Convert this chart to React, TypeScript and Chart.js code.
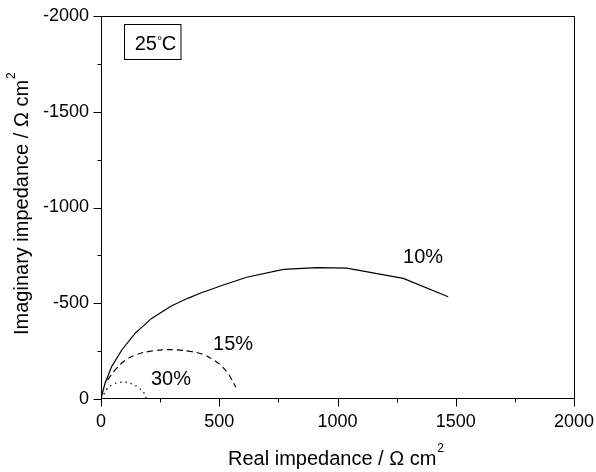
import React, { useEffect, useRef } from "react";
import { Chart, registerables } from "chart.js";

Chart.register(...registerables);

// ---- data (real impedance, imaginary impedance in Ω cm²) ----
const real10 = [0, 6, 17, 45, 88, 144, 214, 299, 369, 419, 517, 616, 771, 912, 1039, 1278, 1468];
const imag10 = [0, -30, -82, -169, -256, -343, -421, -487, -527, -552, -595, -636, -677, -686, -683, -630, -534];

const real15 = [28, 60, 100, 150, 210, 270, 320, 380, 430, 475, 510, 540, 570];
const imag15 = [-100, -152, -200, -232, -250, -257, -257, -248, -234, -205, -172, -128, -62];

const real30 = [12, 25, 50, 80, 105, 135, 160, 180, 192];
const imag30 = [-25, -52, -76, -87, -88, -76, -58, -34, -4];

const seriesNames = ["10%", "15%", "30%"];
// label anchors in data units (real, imaginary)
const labelReal = [1277, 474, 211];
const labelImag = [-710, -256, -73];

const xTickValues = [0, 500, 1000, 1500, 2000];
const yTickValues = [0, -500, -1000, -1500, -2000];
const xTitle = "Real impedance / Ω cm";
const yTitle = "Imaginary impedance / Ω cm";
const tempLabel = ["25", "°", "C"];

const FONT = "'Liberation Sans', Arial, sans-serif";

const toPoints = (xs: number[], ys: number[]) => xs.map((x, i) => ({ x, y: ys[i] }));

const decorPlugin = {
  id: "decor",
  afterDraw(chart: any) {
    const ctx = chart.ctx as CanvasRenderingContext2D;
    const { left, right, top, bottom } = chart.chartArea;
    const xs = chart.scales.x;
    const ys = chart.scales.y;
    ctx.save();
    ctx.strokeStyle = "#000";
    ctx.fillStyle = "#000";
    ctx.lineWidth = 1;
    const L = Math.round(left) + 0.5;
    const R = Math.round(right) + 0.5;
    const T = Math.round(top) + 0.5;
    const B = Math.round(bottom) - 0.5;
    ctx.strokeRect(L, T, R - L, B - T);

    // tick marks (major every 500, minor every 250)
    ctx.beginPath();
    for (let v = 0; v <= 2000; v += 250) {
      const len = v % 500 === 0 ? 8 : 4;
      const px = Math.round(xs.getPixelForValue(v)) + 0.5;
      ctx.moveTo(px, B);
      ctx.lineTo(px, B + len);
      const py = Math.round(ys.getPixelForValue(-v)) + 0.5;
      ctx.moveTo(L, py);
      ctx.lineTo(L - len, py);
    }
    ctx.stroke();

    // axis titles
    ctx.textAlign = "left";
    ctx.textBaseline = "alphabetic";
    ctx.font = `20px ${FONT}`;
    const xw = ctx.measureText(xTitle).width;
    const xStart = 228;
    ctx.fillText(xTitle, xStart, 465);
    ctx.font = `12px ${FONT}`;
    ctx.fillText("2", xStart + xw + 1, 465 - 13);

    ctx.save();
    ctx.translate(28, 335);
    ctx.rotate(-Math.PI / 2);
    ctx.font = `20px ${FONT}`;
    const yw = ctx.measureText(yTitle).width;
    ctx.fillText(yTitle, 0, 0);
    ctx.font = `12px ${FONT}`;
    ctx.fillText("2", yw + 1, -13);
    ctx.restore();

    // series labels
    ctx.font = `20px ${FONT}`;
    seriesNames.forEach((name, i) => {
      ctx.fillText(name, xs.getPixelForValue(labelReal[i]), ys.getPixelForValue(labelImag[i]));
    });

    // temperature box
    ctx.strokeRect(124.5, 24.5, 56.5, 35);
    let tx = 134.7;
    ctx.font = `20px ${FONT}`;
    ctx.fillText(tempLabel[0], tx, 50);
    tx += ctx.measureText(tempLabel[0]).width;
    ctx.font = `13px ${FONT}`;
    ctx.fillText(tempLabel[1], tx, 45);
    tx += ctx.measureText(tempLabel[1]).width - 0.5;
    ctx.font = `20px ${FONT}`;
    ctx.fillText(tempLabel[2], tx, 50);

    ctx.restore();
  },
};

const zeroPad = (s: any) => {
  s.paddingLeft = 0;
  s.paddingRight = 0;
  s.paddingTop = 0;
  s.paddingBottom = 0;
};

export default function App() {
  const canvasRef = useRef<HTMLCanvasElement | null>(null);

  useEffect(() => {
    const canvas = canvasRef.current;
    if (!canvas) return;
    const chart = new Chart(canvas, {
      type: "line",
      data: {
        datasets: [
          {
            label: seriesNames[0],
            data: toPoints(real10, imag10),
            borderColor: "#000",
            borderWidth: 1.2,
            pointRadius: 0,
            tension: 0,
            fill: false,
          },
          {
            label: seriesNames[1],
            data: toPoints(real15, imag15),
            borderColor: "#000",
            borderWidth: 1.2,
            borderDash: [6, 4],
            pointRadius: 0,
            tension: 0.4,
            fill: false,
          },
          {
            label: seriesNames[2],
            data: toPoints(real30, imag30),
            borderColor: "#000",
            borderWidth: 1.3,
            borderDash: [1.3, 4],
            pointRadius: 0,
            tension: 0.4,
            fill: false,
          },
        ],
      },
      options: {
        responsive: false,
        animation: false,
        devicePixelRatio: 1,
        layout: { padding: { left: 0, top: 16, right: 22, bottom: 0 } },
        plugins: { legend: { display: false }, tooltip: { enabled: false } },
        scales: {
          x: {
            type: "linear",
            min: 0,
            max: 2000,
            afterFit: (s: any) => {
              s.height = 73;
              zeroPad(s);
            },
            afterBuildTicks: (s: any) => {
              s.ticks = xTickValues.map((v) => ({ value: v }));
            },
            ticks: {
              color: "#000",
              font: { size: 18, family: FONT },
              padding: 12,
              maxRotation: 0,
              autoSkip: false,
              callback: (v: any) => String(v),
            },
            grid: { drawOnChartArea: false, drawTicks: false, display: true, color: "rgba(0,0,0,0)" },
            border: { display: false },
          },
          y: {
            type: "linear",
            min: -2000,
            max: 0,
            reverse: true,
            afterFit: (s: any) => {
              s.width = 101;
              zeroPad(s);
            },
            afterBuildTicks: (s: any) => {
              s.ticks = yTickValues.map((v) => ({ value: v }));
            },
            ticks: {
              color: "#000",
              font: { size: 18, family: FONT },
              padding: 12,
              autoSkip: false,
              callback: (v: any) => String(v),
            },
            grid: { drawOnChartArea: false, drawTicks: false, display: true, color: "rgba(0,0,0,0)" },
            border: { display: false },
          },
        },
      },
      plugins: [decorPlugin],
    });
    return () => chart.destroy();
  }, []);

  return (
    <div style={{ position: "fixed", left: 0, top: 0, width: 596, height: 472, background: "#fff" }}>
      <canvas ref={canvasRef} width={596} height={472} style={{ display: "block" }} />
    </div>
  );
}
